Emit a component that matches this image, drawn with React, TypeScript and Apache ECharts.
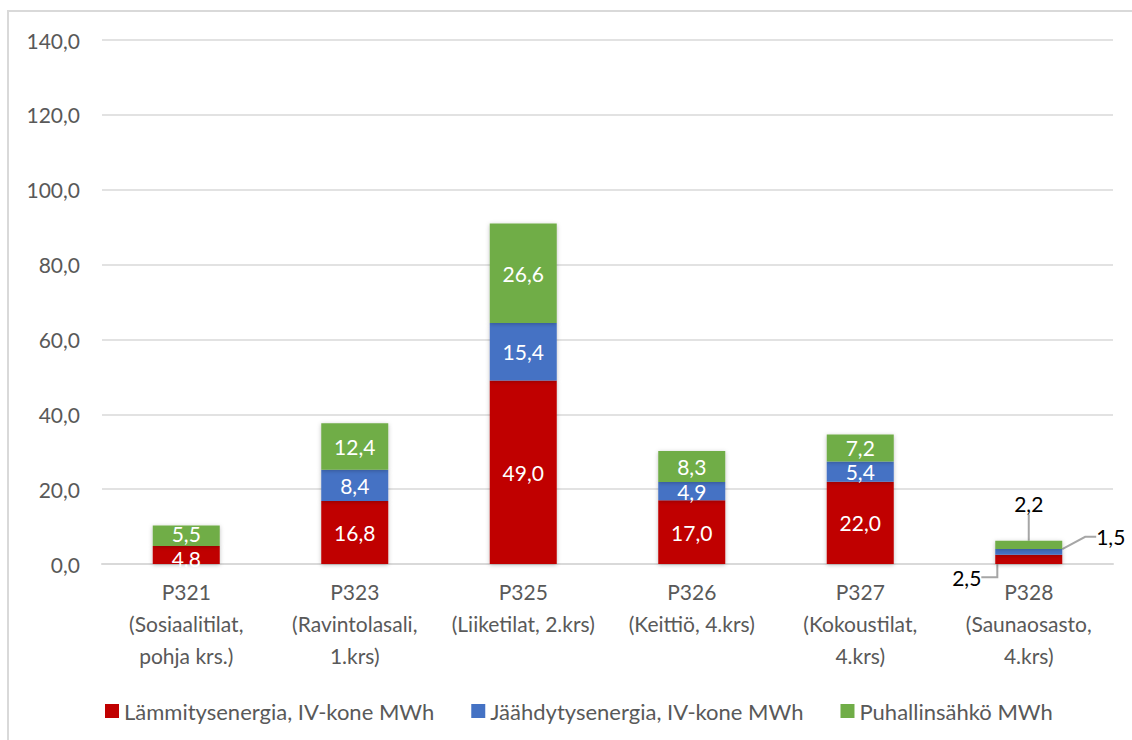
import React, { useEffect, useRef } from "react";
import * as echarts from "echarts";

const categories = [
  "P321\n(Sosiaalitilat,\npohja krs.)",
  "P323\n(Ravintolasali,\n1.krs)",
  "P325\n(Liiketilat, 2.krs)",
  "P326\n(Keittiö, 4.krs)",
  "P327\n(Kokoustilat,\n4.krs)",
  "P328\n(Saunaosasto,\n4.krs)",
];
const heating = [4.8, 16.8, 49.0, 17.0, 22.0, 2.5];
const cooling = [0, 8.4, 15.4, 4.9, 5.4, 1.5];
const fanPower = [5.5, 12.4, 26.6, 8.3, 7.2, 2.2];

const seriesNames = [
  "Lämmitysenergia, IV-kone MWh",
  "Jäähdytysenergia, IV-kone MWh",
  "Puhallinsähkö MWh",
];
const colors = ["#C00000", "#4472C4", "#70AD47"];

const FONT = "Lato, 'Noto Sans', sans-serif";
const fmt = (v: number) => v.toFixed(1).replace(".", ",");

// Offsets and leader-line tails for the small last bar's outside labels
const outsideShift = [
  { dx: -62, dy: 18 },
  { dx: 82, dy: -15 },
  { dx: 0, dy: -41 },
];
const outsideTail = [16, 11, 0];
// Tiny nudges so the two labels of the shallow first bar stay apart
const firstBarNudge = [3, 0, -2];

export default function App() {
  const ref = useRef<HTMLDivElement>(null);

  useEffect(() => {
    if (!ref.current) return;
    const chart = echarts.init(ref.current, null, { renderer: "svg" });
    const values = [heating, cooling, fanPower];
    const lastIdx = categories.length - 1;

    const series = values.map((vals, si) => ({
      name: seriesNames[si],
      type: "bar",
      stack: "total",
      barWidth: 67,
      itemStyle: {
        color: colors[si],
        shadowBlur: 4,
        shadowColor: "rgba(0,0,0,0.25)",
        shadowOffsetY: 1,
      },
      label: {
        show: true,
        position: "inside",
        color: "#ffffff",
        fontFamily: FONT,
        fontSize: 21,
        formatter: (p: any) => (p.value === 0 ? "" : fmt(p.value)),
      },
      labelLine: {
        show: true,
        length2: outsideTail[si],
        smooth: false,
        lineStyle: { color: "#a6a6a6", width: 2 },
      },
      labelLayout: (p: any) => {
        if (p.dataIndex === lastIdx) return outsideShift[si];
        if (p.dataIndex === 0) return { dy: firstBarNudge[si] };
        return {};
      },
      data: vals.map((v, i) =>
        i === lastIdx
          ? { value: v, label: { color: "#000000" } }
          : { value: v, labelLine: { show: false } }
      ),
    }));

    chart.setOption({
      animation: false,
      backgroundColor: "#ffffff",
      graphic: [
        {
          type: "rect",
          shape: { x: 8, y: 11, width: 1140, height: 760 },
          style: { fill: "none", stroke: "#d9d9d9", lineWidth: 2 },
          silent: true,
        },
      ],
      grid: { left: 102, right: 19, top: 40, bottom: 176, containLabel: false },
      legend: {
        left: 100,
        top: 695,
        itemWidth: 14,
        itemHeight: 14,
        itemGap: 37,
        icon: "rect",
        textStyle: { color: "#595959", fontFamily: FONT, fontSize: 22 },
        data: seriesNames,
      },
      xAxis: {
        type: "category",
        data: categories,
        axisLine: { lineStyle: { color: "#d9d9d9", width: 2 } },
        axisTick: { show: false },
        axisLabel: {
          color: "#595959",
          fontFamily: FONT,
          fontSize: 21,
          lineHeight: 32,
          margin: 11,
          interval: 0,
        },
      },
      yAxis: {
        type: "value",
        min: 0,
        max: 140,
        interval: 20,
        axisLine: { show: false },
        axisTick: { show: false },
        splitLine: { lineStyle: { color: "#d9d9d9", width: 1.5 } },
        axisLabel: {
          color: "#595959",
          fontFamily: FONT,
          fontSize: 21,
          margin: 22,
          formatter: (v: number) => fmt(v),
        },
      },
      series,
    });

    return () => chart.dispose();
  }, []);

  return (
    <div
      ref={ref}
      style={{ position: "absolute", left: 0, top: 0, width: 1132, height: 740 }}
    />
  );
}
